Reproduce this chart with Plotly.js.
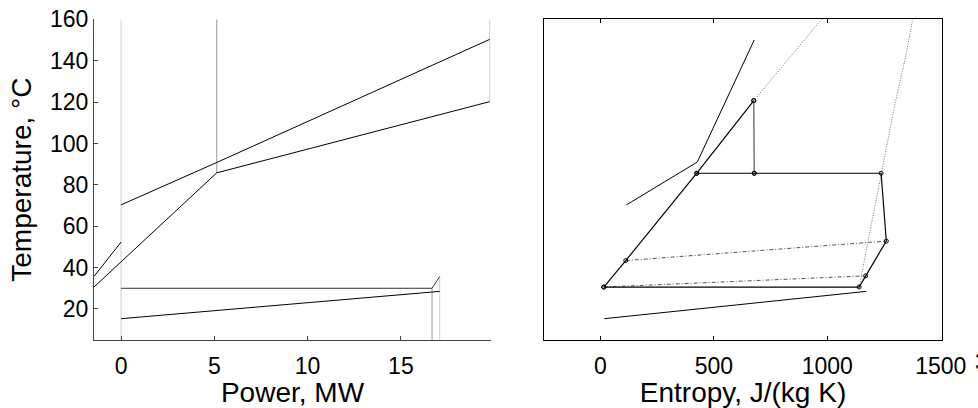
<!DOCTYPE html>
<html>
<head>
<meta charset="utf-8">
<script src="https://cdn.plot.ly/plotly-3.0.1.min.js"></script>
<style>html,body{margin:0;padding:0;background:#fff;}#chart{width:978px;height:408px;}</style>
</head>
<body>
<div id="chart"></div>
<script>
// ---------- Left panel: Temperature vs Power ----------
const powerTicks = [0, 5, 10, 15];
const tempTicks = [20, 40, 60, 80, 100, 120, 140, 160];

const hotPower = [0, 5.13, 19.76];
const hotTemp = [70.3, 90.8, 150.3];

const fluidPower = [-1.45, 5.13, 19.76];
const fluidTemp = [30.6, 85.8, 120.2];

const preheatPower = [-1.45, 0];
const preheatTemp = [35.7, 52.3];

const coolPower = [0, 17.08];
const coolTemp = [15.3, 28.5];

const condPower = [0, 16.67, 17.08];
const condTemp = [30.0, 30.0, 35.7];

// vertical marker lines: position, top temp, bottom temp
const markPower = [0, 5.13, 19.76, 16.67, 17.08];
const markTop = [160, 160, 160, 30.0, 35.7];
const markBottom = [5, 85.8, 120.2, 5, 5];
const markColor = ['#cfcfcf', '#9a9a9a', '#cfcfcf', '#9a9a9a', '#cfcfcf'];

// ---------- Right panel: Temperature vs Entropy ----------
const entropyTicks = [0, 500, 1000, 1500];

const sourceS = [115, 427, 678];
const sourceT = [70.3, 91, 150];

// cycle points
const heatS = [15, 112, 425, 676];
const heatT = [30.6, 43.4, 85.6, 120.7];

const expS = [676, 678];
const expT = [120.7, 85.6];

const loopS = [425, 678, 1237, 1260, 1169, 1140, 15];
const loopT = [85.6, 85.6, 85.6, 52.8, 36.0, 30.6, 30.6];

const regen1S = [112, 1260];
const regen1T = [43.4, 52.8];
const regen2S = [15, 1169];
const regen2T = [30.6, 36.0];

const liqDomeS = [676, 975];
const liqDomeT = [120.7, 160];
const vapDomeS = [1140, 1237, 1300, 1345, 1376];
const vapDomeT = [30.6, 85.6, 120, 142, 160];

const coolS = [17.6, 1172];
const coolT2 = [15.3, 28.5];

const blk = '#000';
const traces = [];

for (let i = 0; i < markPower.length; i++) {
  traces.push({x: [markPower[i], markPower[i]], y: [markTop[i], markBottom[i]], mode: 'lines',
    line: {color: markColor[i], width: 1}, xaxis: 'x', yaxis: 'y', hoverinfo: 'skip'});
}
[[hotPower, hotTemp], [fluidPower, fluidTemp], [preheatPower, preheatTemp], [coolPower, coolTemp]].forEach(p => {
  traces.push({x: p[0], y: p[1], mode: 'lines', line: {color: blk, width: 1}, xaxis: 'x', yaxis: 'y'});
});
traces.push({x: condPower, y: condTemp, mode: 'lines', line: {color: '#333', width: 1}, xaxis: 'x', yaxis: 'y'});

// right
const dotted = {color: '#777', width: 1, dash: '1px,1.5px'};
traces.push({x: liqDomeS, y: liqDomeT, mode: 'lines', line: dotted, xaxis: 'x2', yaxis: 'y2'});
traces.push({x: vapDomeS, y: vapDomeT, mode: 'lines', line: dotted, xaxis: 'x2', yaxis: 'y2'});
traces.push({x: sourceS, y: sourceT, mode: 'lines', line: {color: blk, width: 1}, xaxis: 'x2', yaxis: 'y2'});
traces.push({x: coolS, y: coolT2, mode: 'lines', line: {color: blk, width: 1}, xaxis: 'x2', yaxis: 'y2'});
traces.push({x: regen1S, y: regen1T, mode: 'lines', line: {color: '#555', width: 1, dash: '4px,2px,1px,2px'}, xaxis: 'x2', yaxis: 'y2'});
traces.push({x: regen2S, y: regen2T, mode: 'lines', line: {color: '#555', width: 1, dash: '4px,2px,1px,2px'}, xaxis: 'x2', yaxis: 'y2'});
traces.push({x: heatS, y: heatT, mode: 'lines+markers', line: {color: blk, width: 1.2},
  marker: {symbol: 'circle-open', size: 4, color: blk, line: {width: 1}}, xaxis: 'x2', yaxis: 'y2'});
traces.push({x: expS, y: expT, mode: 'lines+markers', line: {color: '#555', width: 1.2},
  marker: {symbol: 'circle-open', size: 4, color: blk, line: {width: 1}}, xaxis: 'x2', yaxis: 'y2'});
traces.push({x: loopS, y: loopT, mode: 'lines+markers', line: {color: blk, width: 1.2},
  marker: {symbol: 'circle-open', size: 4, color: blk, line: {width: 1}}, xaxis: 'x2', yaxis: 'y2'});

const W = 978, H = 408;
const yDom = [1 - 340 / H, 1 - 19.3 / H];
const tickFont = {family: 'Liberation Sans, Arial, sans-serif', size: 23, color: '#000'};
const titleFont = {family: 'Liberation Sans, Arial, sans-serif', size: 28, color: '#000'};

const layout = {
  width: W, height: H,
  margin: {l: 0, r: 0, t: 0, b: 0},
  paper_bgcolor: '#fff', plot_bgcolor: '#fff',
  showlegend: false,
  font: tickFont,
  xaxis: {domain: [94 / W, 491 / W], range: [-1.45, 19.83], tickvals: powerTicks, ticktext: powerTicks.map(String),
    ticks: 'inside', ticklen: 4, tickcolor: '#444', showline: true, linecolor: '#444', linewidth: 1,
    zeroline: false, showgrid: false, anchor: 'y', tickfont: tickFont, ticklabelstandoff: 5,
    title: {text: 'Power, MW', font: titleFont, standoff: 4}},
  yaxis: {domain: yDom, range: [5, 160], tickvals: tempTicks, ticktext: tempTicks.map(String),
    ticks: 'inside', ticklen: 4, tickcolor: '#444', showline: true, linecolor: '#444', linewidth: 1,
    zeroline: false, showgrid: false, anchor: 'x', tickfont: tickFont,
    title: {text: 'Temperature, °C', font: titleFont, standoff: 10}},
  xaxis2: {domain: [544.3 / W, 941.7 / W], range: [-247, 1504], tickvals: entropyTicks, ticktext: entropyTicks.map(String),
    ticks: 'inside', ticklen: 4, tickcolor: '#000', showline: true, mirror: 'ticks', linecolor: '#000', linewidth: 1,
    zeroline: false, showgrid: false, anchor: 'y2', tickfont: tickFont, ticklabelstandoff: 5,
    title: {text: 'Entropy, J/(kg K)', font: titleFont, standoff: 4}},
  yaxis2: {domain: yDom, range: [5, 160], showticklabels: false, ticks: '', showline: true, mirror: true,
    linecolor: '#000', linewidth: 1, zeroline: false, showgrid: false, anchor: 'x2'},
  annotations: [{text: '3', xref: 'paper', yref: 'paper', x: 973 / W, y: 1 - 362 / H, xanchor: 'left', yanchor: 'middle',
    showarrow: false, font: tickFont}]
};

Plotly.newPlot('chart', traces, layout, {displayModeBar: false, staticPlot: true});
</script>
</body>
</html>
